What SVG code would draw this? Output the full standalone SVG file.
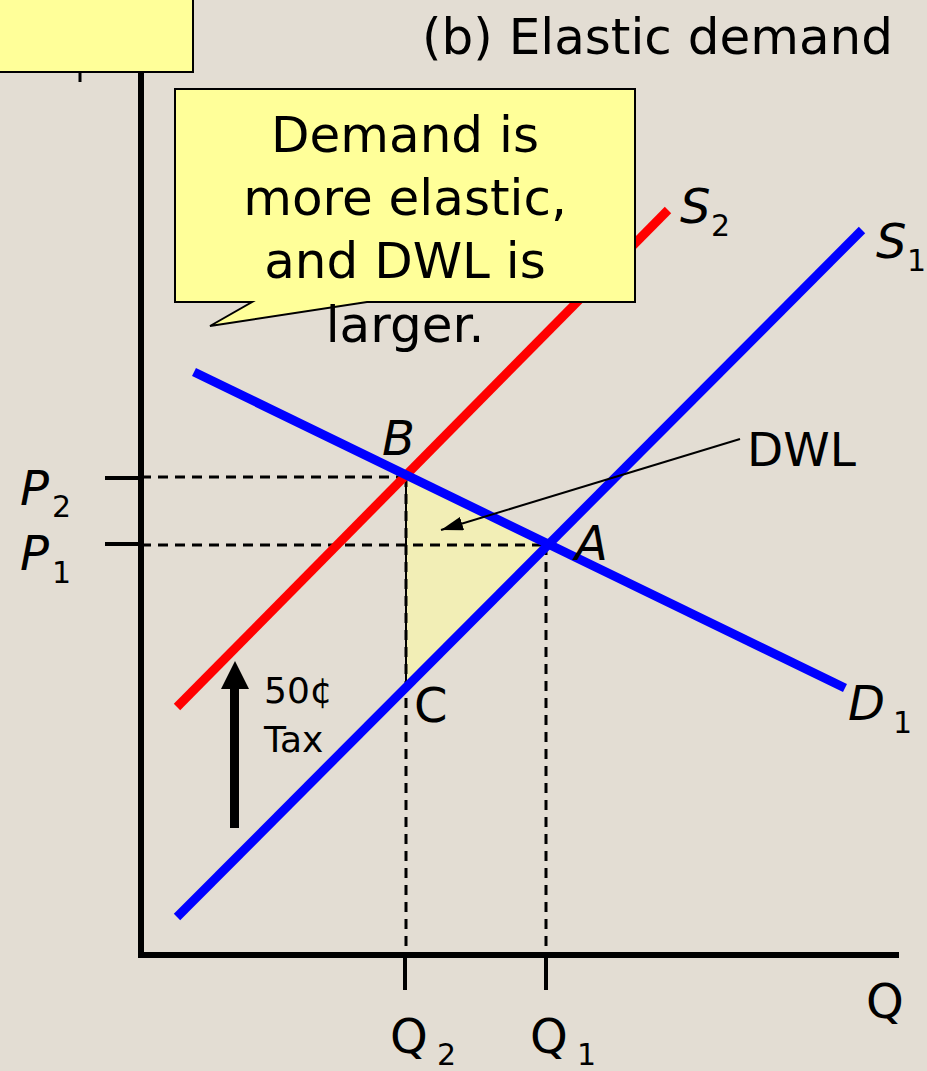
<svg xmlns="http://www.w3.org/2000/svg" width="927" height="1071" viewBox="0 0 927 1071">
<style>
text{font-family:"DejaVu Sans","Liberation Sans",sans-serif;fill:#000}
.lbl{font-size:48px;font-style:italic}
.up{font-size:48px}
.sub{font-size:30px}
.call{font-size:50px;text-anchor:middle}
.dash{stroke:#000;stroke-width:3;stroke-dasharray:10 7;fill:none}
.curve{stroke-width:9;fill:none;stroke-linecap:butt}
.axis{stroke:#000;stroke-width:6;fill:none}
.tick{stroke:#000;stroke-width:4;fill:none}
.box{fill:#FFFF99;stroke:#000;stroke-width:2}
</style>
<defs>
<marker id="ah" viewBox="0 0 22 14" refX="22" refY="7" markerWidth="22" markerHeight="14" markerUnits="userSpaceOnUse" orient="auto">
<path d="M0,0 L22,7 L0,14 Z" fill="#000"/>
</marker>
</defs>
<rect width="927" height="1071" fill="#E3DDD3"/>

<g id="dwl-area">
<polygon points="406,477 547,545 406,688" fill="#F2EEB6"/>
<line x1="406" y1="477" x2="406" y2="688" stroke="#000" stroke-width="2"/>
</g>

<g id="guides">
<line class="dash" x1="141" y1="477" x2="406" y2="477"/>
<line class="dash" x1="141" y1="545" x2="547" y2="545"/>
<line class="dash" x1="406" y1="477" x2="406" y2="955"/>
<line class="dash" x1="546" y1="545" x2="546" y2="955"/>
</g>

<g id="connectors">
<line id="S2" class="curve" stroke="#FF0000" x1="177" y1="707" x2="668" y2="210"/>
<line id="S1" class="curve" stroke="#0000FF" x1="177" y1="917" x2="862" y2="230"/>
<line id="D1" class="curve" stroke="#0000FF" x1="194" y1="372" x2="845" y2="688"/>
<line id="dwl-pointer" x1="740" y1="439" x2="441" y2="530" stroke="#000" stroke-width="2" marker-end="url(#ah)"/>
</g>

<g id="axes">
<line class="axis" x1="141" y1="60" x2="141" y2="958"/>
<line class="axis" x1="138" y1="955" x2="899" y2="955"/>
<line class="tick" x1="105" y1="478" x2="141" y2="478"/>
<line class="tick" x1="105" y1="544" x2="141" y2="544"/>
<line class="tick" x1="405" y1="955" x2="405" y2="990"/>
<line class="tick" x1="546" y1="955" x2="546" y2="990"/>
<line x1="80" y1="70" x2="80" y2="82" stroke="#000" stroke-width="3"/>
</g>

<g id="topleft-box">
<rect class="box" x="-2" y="-2" width="195" height="74"/>
</g>

<g id="title">
<text x="893" y="54" font-size="50" text-anchor="end">(b) Elastic demand</text>
</g>

<g id="labels">
<text class="lbl" x="20" y="505">P</text><text class="sub" x="52" y="517">2</text>
<text class="lbl" x="20" y="570">P</text><text class="sub" x="52" y="583">1</text>
<text class="lbl" x="680" y="223">S</text><text class="sub" x="711" y="236">2</text>
<text class="lbl" x="876" y="258">S</text><text class="sub" x="907" y="271">1</text>
<text class="lbl" x="848" y="720">D</text><text class="sub" x="893" y="733">1</text>
<text class="lbl" x="382" y="455">B</text>
<text class="lbl" x="575" y="560">A</text>
<text class="up" x="414" y="722">C</text>
<text class="up" x="390" y="1053" font-size="50">Q</text><text class="sub" x="437" y="1065">2</text>
<text class="up" x="530" y="1053" font-size="50">Q</text><text class="sub" x="577" y="1065">1</text>
<text class="up" x="866" y="1018" font-size="50">Q</text>
<text x="747" y="466" font-size="47">DWL</text>
</g>

<g id="tax-arrow">
<rect x="230" y="686" width="9" height="142" fill="#000"/>
<polygon points="235,661 221,689 249,689" fill="#000"/>
<text x="264" y="703" font-size="36">50¢</text>
<text x="264" y="752" font-size="36">Tax</text>
</g>

<g id="callout">
<path class="box" d="M175,89 H635 V302 H367 L210,326 L252,302 H175 Z"/>
<text class="call" x="405" y="152">Demand is</text>
<text class="call" x="405" y="215">more elastic,</text>
<text class="call" x="405" y="278">and DWL is</text>
<text class="call" x="405" y="342">larger.</text>
</g>
</svg>
